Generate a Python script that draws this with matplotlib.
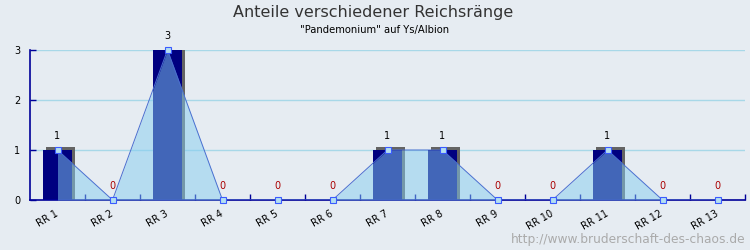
import matplotlib
matplotlib.use("Agg")
import matplotlib.pyplot as plt
import matplotlib.transforms as mtransforms
import numpy as np

categories = ["RR 1", "RR 2", "RR 3", "RR 4", "RR 5", "RR 6", "RR 7",
              "RR 8", "RR 9", "RR 10", "RR 11", "RR 12", "RR 13"]
bar_values = [1, 0, 3, 0, 0, 0, 1, 1, 0, 0, 1, 0, 0]
area_values = [1, 0, 3, 0, 0, 0, 1, 1, 0, 0, 1, 0, 0]
y_ticks = [0, 1, 2, 3]

BG = "#e6ecf2"
AXIS = "#000099"

fig = plt.figure(figsize=(7.5, 2.5), dpi=100, facecolor=BG)
ax = fig.add_axes([30/750, 50/250, 715/750, 150/250])
ax.set_facecolor(BG)

x = np.arange(len(categories))
ax.set_xlim(-0.5, len(categories) - 0.5)
ax.set_ylim(0, 3)

# grid
for yv in y_ticks[1:]:
    ax.axhline(yv, color="#a8d8e8", lw=1, zorder=0)

# shadow bars (offset right and up, reaching down to the axis)
shadow_up = ax.transData + mtransforms.ScaledTranslation(0.03, 0.03, fig.dpi_scale_trans)
shadow_rt = ax.transData + mtransforms.ScaledTranslation(0.03, 0.0, fig.dpi_scale_trans)
ax.bar(x, bar_values, width=0.53, color="#646464", transform=shadow_up, zorder=1)
ax.bar(x, bar_values, width=0.53, color="#646464", transform=shadow_rt, zorder=1)
ax.bar(x, bar_values, width=0.53, color="#000080", zorder=2)

# area
ax.fill_between(x, area_values, 0, color="#85cdf0", alpha=0.5, lw=0, zorder=3)
ax.plot(x, area_values, color="#4a6fd0", lw=0.7, zorder=4)
ax.plot(x, area_values, ls="none", marker="s", ms=5, mfc="#b4dff0",
        mec="#3b5bff", mew=0.8, zorder=5, clip_on=False)

# value labels
for xi, v in zip(x, area_values):
    col = "black" if v > 0 else "#aa0000"
    ax.annotate(str(v), (xi, v), xytext=(0, 6.5), textcoords="offset points",
                ha="center", va="bottom", fontsize=7, color=col, zorder=6)

# spines
for s in ["top", "right"]:
    ax.spines[s].set_visible(False)
for s in ["left", "bottom"]:
    ax.spines[s].set_color(AXIS)
    ax.spines[s].set_linewidth(1.2)

# ticks
ax.set_yticks(y_ticks)
ax.set_yticklabels([str(v) for v in y_ticks], fontsize=7)
ax.tick_params(axis="y", direction="in", length=4, color=AXIS, width=1, pad=7)
ax.set_xticks(x - 0.05)
ax.set_xticklabels(categories, fontsize=7, rotation=30, ha="right",
                   rotation_mode="anchor")
ax.tick_params(axis="x", which="major", length=0, pad=6)
ax.set_xticks(np.arange(len(categories)) + 0.5, minor=True)
ax.tick_params(axis="x", which="minor", direction="in", length=4, color=AXIS, width=1)

# titles
fig.text(0.497, 1 - 13/250, "Anteile verschiedener Reichsränge", ha="center",
         va="center", fontsize=11.5, color="#333333")
fig.text(0.5, 1 - 30/250, '"Pandemonium" auf Ys/Albion', ha="center",
         va="center", fontsize=7.2, color="black")
fig.text(745/750, 1 - 240/250, "http://www.bruderschaft-des-chaos.de",
         ha="right", va="center", fontsize=8.8, color="#aaaaaa")

fig.savefig("out.png", dpi=100, facecolor=BG)
